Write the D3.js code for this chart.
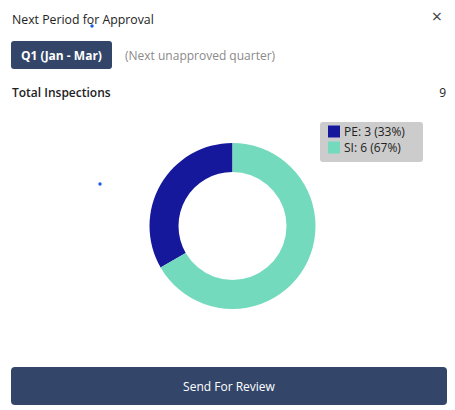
<!DOCTYPE html>
<html><head><meta charset="utf-8">
<script src="https://cdn.jsdelivr.net/npm/d3@7"></script>
<style>html,body{margin:0;padding:0;background:#fff;}svg{display:block;}</style>
</head><body>
<svg id="c" width="455" height="410"></svg>
<script>
const categories = ["PE", "SI"];
const values = [3, 6];
const colors = ["#15189b", "#73dabd"];
const title = "Next Period for Approval";
const periodLabel = "Q1 (Jan - Mar)";
const periodNote = "(Next unapproved quarter)";
const totalLabel = "Total Inspections";
const buttonLabel = "Send For Review";

const font = "'Segoe UI','Open Sans','Noto Sans',sans-serif";
const svg = d3.select("#c");
const total = d3.sum(values);

// header
svg.append("text").attr("x", 12).attr("y", 24).attr("font-family", font).attr("font-size", 12.3)
  .attr("fill", "#222").text(title);
svg.append("text").attr("x", 437).attr("y", 23).attr("text-anchor", "middle").attr("font-family", font)
  .attr("font-size", 18).attr("fill", "#444").text("×");
svg.append("circle").attr("cx", 92).attr("cy", 26).attr("r", 1.7).attr("fill", "#1d5be0");
svg.append("circle").attr("cx", 100).attr("cy", 184).attr("r", 1.7).attr("fill", "#1d5be0");

// badge
svg.append("rect").attr("x", 11).attr("y", 41).attr("width", 101).attr("height", 28).attr("rx", 3)
  .attr("fill", "#33466a");
svg.append("text").attr("x", 61.5).attr("y", 59.5).attr("text-anchor", "middle").attr("font-family", font)
  .attr("font-size", 12).attr("font-weight", 700).attr("fill", "#fff").text(periodLabel);
svg.append("text").attr("x", 125).attr("y", 60).attr("font-family", font).attr("font-size", 12)
  .attr("fill", "#8a8a8a").text(periodNote);

// total
svg.append("text").attr("x", 12).attr("y", 97).attr("font-family", font).attr("font-size", 12)
  .attr("font-weight", 600).attr("fill", "#222").text(totalLabel);
svg.append("text").attr("x", 446).attr("y", 97).attr("text-anchor", "end").attr("font-family", font)
  .attr("font-size", 12).attr("fill", "#222").text(total);

// donut
const cx = 232.5, cy = 226, rOut = 83, rIn = 54;
const data = categories.map((c, i) => ({cat: c, value: values[i], color: colors[i]}));
const pie = d3.pie().value(d => d.value).sort((a, b) => d3.descending(a.value, b.value));
const arc = d3.arc().innerRadius(rIn).outerRadius(rOut);
svg.append("g").attr("transform", `translate(${cx},${cy})`)
  .selectAll("path").data(pie(data)).join("path")
  .attr("d", arc).attr("fill", d => d.data.color);

// legend
const lg = svg.append("g").attr("transform", "translate(320,122)");
lg.append("rect").attr("width", 103).attr("height", 40).attr("rx", 3).attr("fill", "#cccccc");
data.forEach((d, i) => {
  lg.append("rect").attr("x", 8).attr("y", 3.5 + i * 16).attr("width", 12).attr("height", 12).attr("fill", d.color);
  lg.append("text").attr("x", 24).attr("y", 14 + i * 16).attr("font-family", font).attr("font-size", 12)
    .attr("fill", "#222").text(`${d.cat}: ${d.value} (${Math.round(d.value / total * 100)}%)`);
});

// button
svg.append("rect").attr("x", 11).attr("y", 367).attr("width", 436).attr("height", 38).attr("rx", 4)
  .attr("fill", "#33466a");
svg.append("text").attr("x", 229).attr("y", 390.5).attr("text-anchor", "middle").attr("font-family", font)
  .attr("font-size", 12).attr("fill", "#fff").text(buttonLabel);
</script>
</body></html>
